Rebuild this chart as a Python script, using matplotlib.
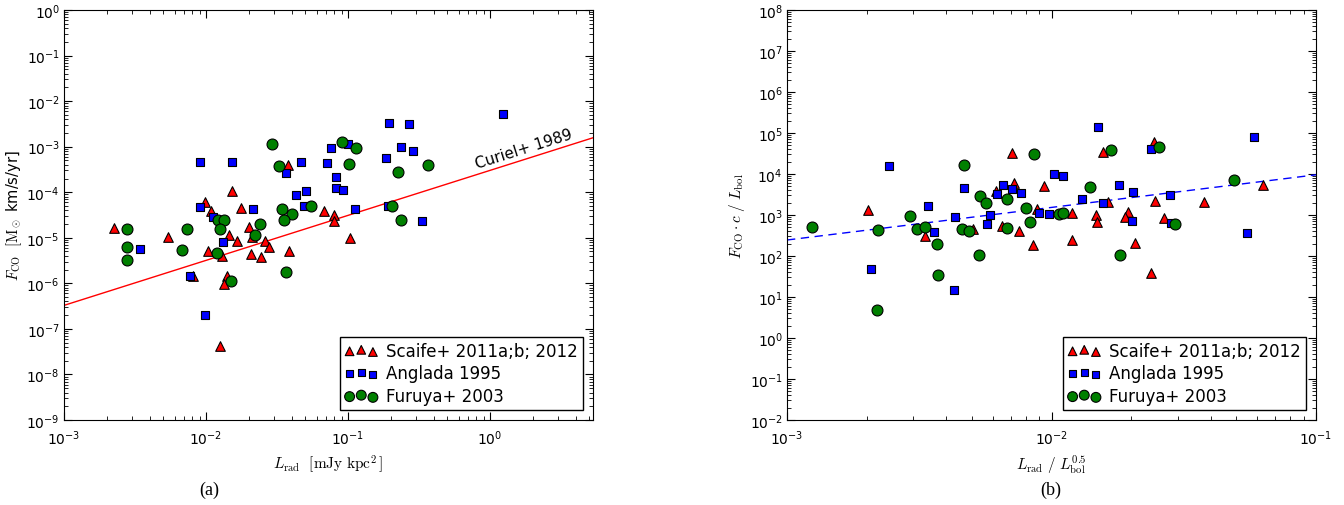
import numpy as np
import matplotlib
matplotlib.use("Agg")
from matplotlib import pyplot as plt
from matplotlib.ticker import LogLocator, NullFormatter

# ---- panel (a): F_CO vs L_rad ----
scaife_lrad = [0.00225, 0.00537, 0.00984, 0.0108, 0.0152, 0.0175, 0.0146, 0.0164, 0.0104,
               0.0129, 0.00815, 0.0140, 0.01346, 0.01256, 0.0200, 0.0212, 0.0258, 0.0278,
               0.0386, 0.0208, 0.0245, 0.0380, 0.0675, 0.0792, 0.0792, 0.1028]
scaife_fco = [1.6e-5, 1.04e-5, 6.1e-5, 3.85e-5, 1.09e-4, 4.6e-5, 1.18e-5, 8.7e-6, 5.1e-6,
              3.9e-6, 1.47e-6, 1.42e-6, 9.5e-7, 4.3e-8, 1.72e-5, 1.04e-5, 8.6e-6, 6.35e-6,
              5.2e-6, 4.3e-6, 3.7e-6, 4.0e-4, 3.85e-5, 3.15e-5, 2.36e-5, 9.8e-6]

anglada_lrad = [0.00908, 0.0152, 0.00908, 0.01114, 0.01313, 0.00343, 0.00771, 0.00989,
                0.0213, 0.0366, 0.0467, 0.0714, 0.0429, 0.0508, 0.0487, 0.0755, 0.1005,
                0.0818, 0.0827, 0.0923, 0.1125, 0.184, 0.195, 0.267, 0.236, 0.288, 0.192,
                0.330, 1.24]
anglada_fco = [4.6e-4, 4.6e-4, 4.7e-5, 2.93e-5, 8.2e-6, 5.65e-6, 1.47e-6, 2.05e-7,
               4.2e-5, 2.66e-4, 4.57e-4, 4.4e-4, 8.9e-5, 1.04e-4, 5.1e-5, 9.3e-4, 1.15e-3,
               2.18e-4, 1.25e-4, 1.13e-4, 4.2e-5, 5.6e-4, 3.3e-3, 3.1e-3, 9.8e-4, 8.1e-4,
               5.1e-5, 2.36e-5, 5.3e-3]

furuya_lrad = [0.00277, 0.00277, 0.00277, 0.00738, 0.00674, 0.01222, 0.0134, 0.01256,
               0.01188, 0.0149, 0.0293, 0.0328, 0.0343, 0.0406, 0.0354, 0.0546, 0.0241,
               0.0220, 0.0367, 0.0912, 0.1133, 0.1012, 0.224, 0.364, 0.205, 0.237]
furuya_fco = [1.55e-5, 6.25e-6, 3.18e-6, 1.55e-5, 5.45e-6, 2.48e-5, 2.48e-5, 1.55e-5,
              4.6e-6, 1.12e-6, 1.15e-3, 3.85e-4, 4.3e-5, 3.25e-5, 2.48e-5, 5.1e-5, 2.0e-5,
              1.15e-5, 1.73e-6, 1.25e-3, 9.4e-4, 4.1e-4, 2.8e-4, 3.9e-4, 5.1e-5, 2.48e-5]

# Curiel+ 1989 relation
curiel_norm = 10 ** -3.52
curiel_slope = 0.988

# ---- panel (b): F_CO c / L_bol vs L_rad / L_bol^0.5 ----
scaife_x = [0.00202, 0.00333, 0.00506, 0.00615, 0.00650, 0.00720, 0.00708, 0.00753,
            0.00883, 0.00851, 0.00938, 0.01567, 0.0245, 0.0164, 0.0246, 0.0378, 0.0633,
            0.0120, 0.0147, 0.0148, 0.0194, 0.0190, 0.0266, 0.0120, 0.0207, 0.0238]
scaife_y = [1320, 302, 456, 3920, 548, 5930, 32500, 407, 1380, 182, 4960, 35000, 61400,
            2040, 2160, 2080, 5480, 1100, 1000, 687, 1180, 879, 860, 241, 207, 37.8]

anglada_x = [0.00242, 0.00207, 0.00341, 0.00361, 0.00427, 0.00467, 0.00432, 0.00569,
             0.00583, 0.00622, 0.00655, 0.00710, 0.00768, 0.00900, 0.00982, 0.01503,
             0.0238, 0.0585, 0.01026, 0.01101, 0.0180, 0.0204, 0.0130, 0.0156, 0.0281,
             0.0201, 0.0282, 0.0547]
anglada_y = [15400, 47.4, 1660, 379, 15.1, 4630, 879, 603, 984, 3310, 5300, 4310, 3380,
             1100, 1080, 142600, 40000, 78500, 10200, 8790, 5480, 3700, 2460, 1930, 3020,
             726, 638, 370]

furuya_x = [0.00124, 0.00221, 0.00218, 0.00292, 0.00310, 0.00333, 0.00368, 0.00372,
            0.00467, 0.00460, 0.00489, 0.00532, 0.00536, 0.00564, 0.00681, 0.00681,
            0.00859, 0.00804, 0.00830, 0.01676, 0.0256, 0.01403, 0.0490, 0.0107, 0.01101,
            0.0292, 0.01815]
furuya_y = [501, 438, 4.8, 962, 448, 509, 196, 33.8, 16300, 456, 414, 106, 2910, 1930,
            2500, 482, 31300, 1510, 664, 38500, 46300, 4740, 7020, 1060, 1090, 614, 106]

# dashed fit in panel (b)
fit_norm = 10 ** 3.98   # value at x = 0.1
fit_slope = 0.795

labels = ["Scaife+ 2011a;b; 2012", "Anglada 1995", "Furuya+ 2003"]

fig = plt.figure(figsize=(13.44, 5.06), dpi=100)
ax1 = fig.add_axes([64 / 1344, 85 / 506, 529 / 1344, 410 / 506])
ax2 = fig.add_axes([787 / 1344, 85 / 506, 529 / 1344, 410 / 506])


def draw_points(ax, sx, sy, ax_, ay, fx, fy):
    ax.scatter(sx, sy, marker="^", s=48, c="r", edgecolors="k", linewidths=0.8,
               label=labels[0], zorder=3)
    ax.scatter(ax_, ay, marker="s", s=32, c="b", edgecolors="k", linewidths=0.8,
               label=labels[1], zorder=3)
    ax.scatter(fx, fy, marker="o", s=62, c="g", edgecolors="k", linewidths=0.8,
               label=labels[2], zorder=3)


def style_axes(ax):
    ax.set_xscale("log")
    ax.set_yscale("log")
    for axis in (ax.xaxis, ax.yaxis):
        axis.set_major_locator(LogLocator(base=10, numticks=100))
        axis.set_minor_locator(LogLocator(base=10, subs=np.arange(2, 10), numticks=100))
        axis.set_minor_formatter(NullFormatter())
    ax.tick_params(which="both", direction="in", top=True, right=True, labelsize=10)
    ax.tick_params(which="major", length=6, width=0.8)
    ax.tick_params(which="minor", length=3, width=0.6)
    ax.tick_params(axis="x", pad=6)
    ax.tick_params(axis="y", pad=3)
    leg = ax.legend(loc="lower right", scatterpoints=3, fontsize=12, fancybox=False,
                    edgecolor="k", framealpha=1, handletextpad=0.5, borderpad=0.3,
                    labelspacing=0.28, borderaxespad=0.6, markerscale=0.9)
    leg.get_frame().set_linewidth(1.0)


# panel (a)
draw_points(ax1, scaife_lrad, scaife_fco, anglada_lrad, anglada_fco, furuya_lrad, furuya_fco)
xl = np.array([1e-3, 5.3])
ax1.plot(xl, curiel_norm * xl ** curiel_slope, "r-", lw=1.0, zorder=2)
ax1.text(1.72, 9.0e-4, "Curiel+ 1989", fontsize=11, rotation=17.5,
         ha="center", va="center", rotation_mode="anchor")
ax1.set_xlim(1e-3, 5.3)
ax1.set_ylim(1e-9, 1)
ax1.set_xlabel(r"$L_{\rm rad}\ \ [{\rm mJy\ kpc}^2\,]$", fontsize=11, math_fontfamily="cm")
ax1.set_ylabel(r"$F_{\rm CO}\ \ [{\rm M}_\odot$ km/s/yr]", fontsize=10.5,
               math_fontfamily="cm", labelpad=2)
style_axes(ax1)

# panel (b)
draw_points(ax2, scaife_x, scaife_y, anglada_x, anglada_y, furuya_x, furuya_y)
xf = np.array([1e-3, 1e-1])
ax2.plot(xf, fit_norm * (xf / 0.1) ** fit_slope, color="b", ls=(0, (6, 4)), lw=1.0, zorder=2)
ax2.set_xlim(1e-3, 1e-1)
ax2.set_ylim(1e-2, 1e8)
ax2.set_xlabel(r"$L_{\rm rad}\ /\ L_{\rm bol}^{0.5}$", fontsize=11, math_fontfamily="cm")
ax2.set_ylabel(r"$F_{\rm CO}\cdot c\ /\ L_{\rm bol}$", fontsize=11, math_fontfamily="cm",
               labelpad=2)
style_axes(ax2)

fig.text(209 / 1344, 1 - 490 / 506, "(a)", fontsize=13, family="Liberation Serif",
         ha="center", va="center")
fig.text(1051 / 1344, 1 - 490 / 506, "(b)", fontsize=13, family="Liberation Serif",
         ha="center", va="center")

fig.savefig("out.png", dpi=100)
